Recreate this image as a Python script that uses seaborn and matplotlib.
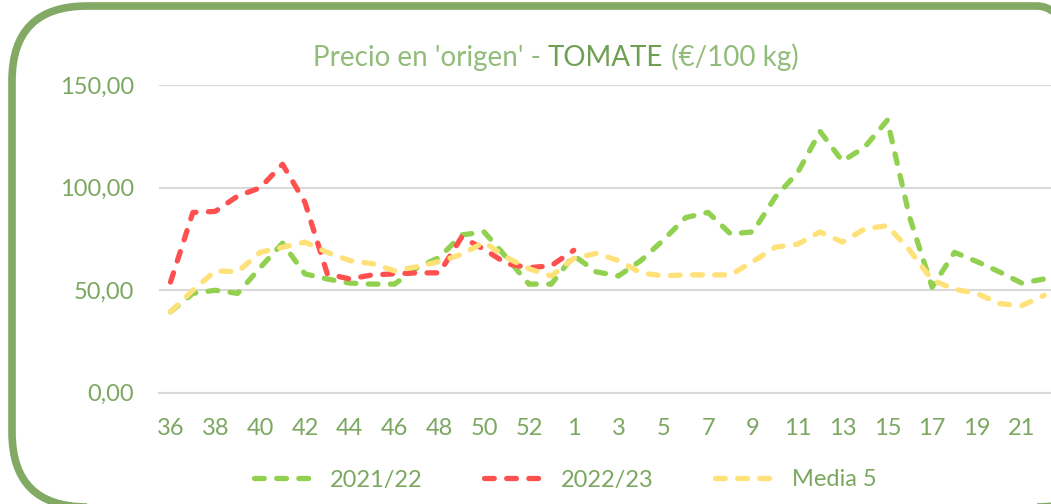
import numpy as np
import pandas as pd
import matplotlib.pyplot as plt
import seaborn as sns
from matplotlib.patches import FancyBboxPatch
from matplotlib.transforms import IdentityTransform

# --- Data ---
weeks = list(range(36, 54)) + list(range(1, 23))

precio_2122 = [39.5, 48.5, 50, 48.5, 61, 73, 58, 55.5, 53.5, 53, 53, 61, 66, 77,
               78.5, 66, 53, 53, 67, 59, 57, 64.5, 74.5, 85.5, 88, 77.5, 78.5,
               95.5, 107.5, 127.5, 113, 120, 133, 85.5, 51.5, 68.5, 64, 59, 53.5, 55.5]
precio_2223 = [54, 88, 88.5, 96, 100, 111.5, 93, 58, 55.5, 57.5, 58, 58.5, 58.5,
               76, 70, 63, 61, 62, 69.5] + [np.nan] * 21
media_5 = [39.5, 50, 59.5, 59, 68.5, 71, 73.5, 68.5, 64.5, 63, 59.5, 61.5, 64,
           67.5, 73.5, 66, 60.5, 57, 65.5, 68, 64.5, 58.5, 57, 57.5, 57.5, 57.5,
           64, 71, 72.5, 78.5, 73.5, 80, 81.5, 69.5, 55, 50.5, 48.5, 43.5, 42.5, 47.5]

series_names = ["2021/22", "2022/23", "Media 5"]
colors = ["#92D050", "#FF5050", "#FFE17A"]

pos = np.arange(len(weeks))
df = pd.DataFrame({
    "pos": np.tile(pos, 3),
    "precio": precio_2122 + precio_2223 + media_5,
    "serie": np.repeat(series_names, len(weeks)),
})

# --- Style ---
sns.set_style("white")
plt.rcParams["font.family"] = ["Lato", "DejaVu Sans"]
text_col = "#7BA760"

fig = plt.figure(figsize=(10.51, 5.04), dpi=100)
ax = fig.add_axes([159.3 / 1051, 111.3 / 504, 896 / 1051, 307.3 / 504])

sns.lineplot(data=df, x="pos", y="precio", hue="serie", palette=colors,
             hue_order=series_names, sort=False, legend=False, ax=ax)

for ln in ax.lines:
    ln.set_linewidth(3.8)
    ln.set_linestyle((0, (1.85, 2.35)))
    ln.set_dash_capstyle("round")
    ln.set_solid_capstyle("round")
    ln.set_dash_joinstyle("round")

# axes
ax.set_xlim(-0.5, len(weeks) - 0.5)
ax.set_ylim(0, 150)
ax.set_yticks([0, 50, 100, 150])
ax.set_yticklabels([f"{v:.2f}".replace(".", ",") for v in [0, 50, 100, 150]])
ax.yaxis.grid(True, color="#D9D9D9", linewidth=1.5)
ax.xaxis.grid(False)
for s in ["left", "right", "top"]:
    ax.spines[s].set_visible(False)
ax.spines["bottom"].set_color("#D9D9D9")
ax.spines["bottom"].set_linewidth(1.5)
ax.tick_params(axis="y", length=0, pad=18, labelsize=17, labelcolor=text_col)

# tick marks at the category boundaries, labels on every other category
ax.set_xticks(np.arange(len(weeks) + 1) - 0.5)
ax.set_xticklabels([])
ax.tick_params(axis="x", which="major", length=7, width=1.5, color="#D9D9D9")
ax.set_xticks(pos[::2], minor=True)
ax.set_xticklabels([str(w) for w in weeks[::2]], minor=True)
ax.tick_params(axis="x", which="minor", length=0, pad=18, labelsize=17, labelcolor=text_col)
ax.set_xlabel("")
ax.set_ylabel("")

# title in three colour pieces
t1 = fig.text(313 / 1051, (504 - 66) / 504, "Precio en 'origen' - ", fontsize=20,
              color="#92BC7A", ha="left", va="baseline")
t2 = fig.text(0, 0, "TOMATE", fontsize=20, color="#6E9F52", va="baseline")
t3 = fig.text(0, 0, " (€/100 kg)", fontsize=20, color="#92BC7A", va="baseline")
fig.canvas.draw()
r = fig.canvas.get_renderer()
bb1 = t1.get_window_extent(r)
t2.set_position((bb1.x1 / fig.bbox.width, t1.get_position()[1]))
bb2 = t2.get_window_extent(r)
t3.set_position((bb2.x1 / fig.bbox.width, t1.get_position()[1]))

# legend
fig.legend(ax.lines, series_names, loc="center", bbox_to_anchor=(565 / 1051, 24 / 504),
           ncol=3, frameon=False, fontsize=17, handlelength=2.75, handletextpad=0.5,
           columnspacing=2.6, labelcolor=text_col)

# rounded green frame, cut off on the right and bottom
frame = FancyBboxPatch((12, -3), 1100, 501, boxstyle="round,pad=0,rounding_size=75",
                       linewidth=5.5, edgecolor="#82AA64", facecolor="none",
                       transform=IdentityTransform())
fig.add_artist(frame)

fig.savefig("out.png", dpi=100)
